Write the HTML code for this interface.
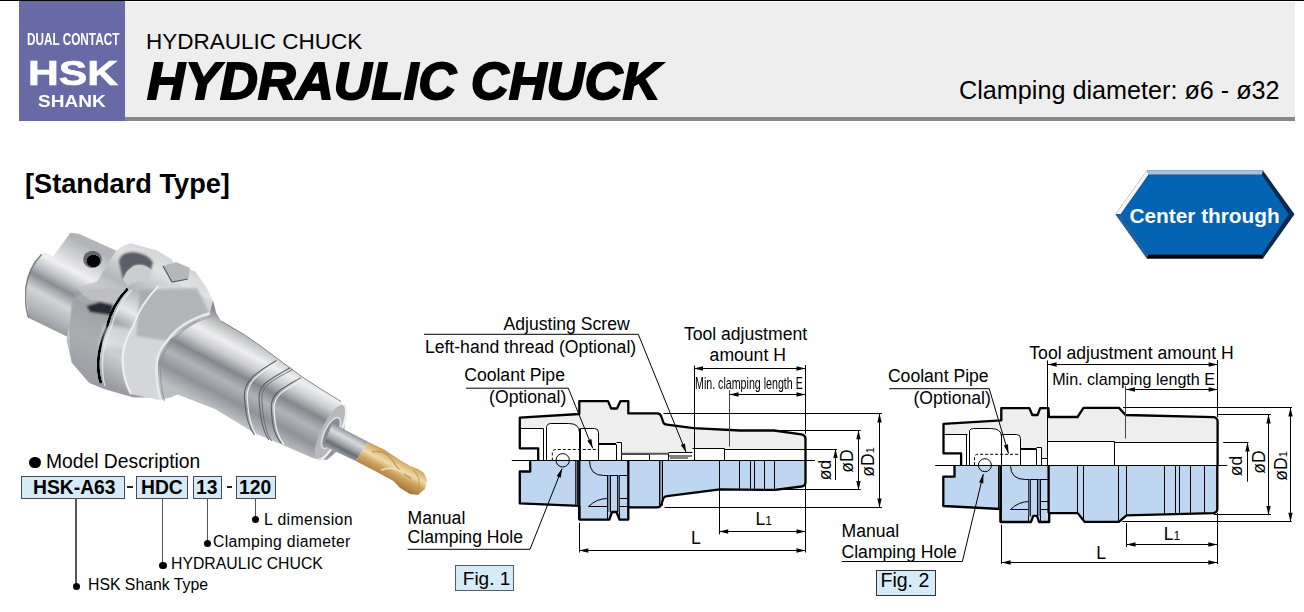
<!DOCTYPE html>
<html><head><meta charset="utf-8">
<style>
html,body{margin:0;padding:0;background:#fff;}
body{width:1304px;height:612px;position:relative;overflow:hidden;font-family:"Liberation Sans",sans-serif;color:#000;}
.a{position:absolute;white-space:nowrap;line-height:1;}
svg{position:absolute;left:0;top:0;}
.box{position:absolute;background:#D5EBF8;border:1.3px solid #4a4a4a;}
.bt{font-size:19.3px;font-weight:bold;}
.ln{width:1.3px;background:#555;}
.dot{position:absolute;width:7.4px;height:7.4px;border-radius:50%;background:#000;}
.lt{font-size:15.8px;}
</style></head><body>
<!-- header -->
<div class="a" style="left:0;top:0;width:1304px;height:1px;background:#000"></div>
<div class="a" style="left:19px;top:1px;width:106px;height:120px;background:#676AA4"></div>
<div class="a" style="left:125px;top:2px;width:1170px;height:115px;background:#EEEEEE"></div>
<div class="a" style="left:125px;top:117px;width:1170px;height:4px;background:#888888"></div>
<div class="a" id="t_dual" style="left:27px;top:32px;font-size:16px;font-weight:bold;color:#fff;transform-origin:0 0;transform:scaleX(0.735)">DUAL CONTACT</div>
<div class="a" id="t_hsk" style="left:27.5px;top:55.8px;font-size:35.5px;font-weight:bold;color:#fff;-webkit-text-stroke:0.7px #fff;transform-origin:0 0;transform:scaleX(1.2)">HSK</div>
<div class="a" id="t_shank" style="left:38px;top:93px;font-size:17px;font-weight:bold;color:#fff;transform-origin:0 0;transform:scaleX(1.12)">SHANK</div>
<div class="a" id="t_hc1" style="left:146px;top:31px;font-size:22.5px">HYDRAULIC CHUCK</div>
<div class="a" id="t_hc2" style="left:147px;top:55px;font-size:52.5px;font-weight:bold;font-style:italic;-webkit-text-stroke:1.8px #000">HYDRAULIC CHUCK</div>
<div class="a" id="t_clamp" style="left:959px;top:78.2px;font-size:25.2px">Clamping diameter: ø6 - ø32</div>

<div class="a" id="t_std" style="left:25px;top:170px;font-size:27.2px;font-weight:bold">[Standard Type]</div>

<!-- model description -->
<div class="a" style="left:29.3px;top:456.5px;width:11.5px;height:11.5px;border-radius:50%;background:#000"></div>
<div class="a" id="t_md" style="left:46px;top:451.5px;font-size:19.3px">Model Description</div>
<div class="box" style="left:21px;top:476px;width:102px;height:21px"></div>
<div class="box" style="left:136px;top:476px;width:50px;height:21px"></div>
<div class="box" style="left:193px;top:476px;width:27px;height:21px"></div>
<div class="box" style="left:236px;top:476px;width:38px;height:21px"></div>
<div class="a bt" id="b1" style="left:33px;top:478px">HSK-A63</div>
<div class="a bt" id="b2" style="left:141px;top:478px">HDC</div>
<div class="a bt" id="b3" style="left:196px;top:478px">13</div>
<div class="a bt" id="b4" style="left:239px;top:478px">120</div>
<div class="a" style="left:127px;top:486px;width:6px;height:2px;background:#222"></div>
<div class="a" style="left:227px;top:486px;width:5px;height:2px;background:#222"></div>
<div class="a ln" style="left:75.3px;top:498px;height:88px"></div>
<div class="a ln" style="left:162px;top:498px;height:67px"></div>
<div class="a ln" style="left:206.5px;top:498px;height:45px"></div>
<div class="a ln" style="left:255px;top:498px;height:21px"></div>
<div class="dot" style="left:72.6px;top:582.6px"></div>
<div class="dot" style="left:159.3px;top:562px"></div>
<div class="dot" style="left:203.8px;top:540px"></div>
<div class="dot" style="left:252px;top:516px"></div>
<div class="a lt" id="l1" style="left:88px;top:576.5px">HSK Shank Type</div>
<div class="a lt" id="l2" style="left:171px;top:555.5px">HYDRAULIC CHUCK</div>
<div class="a lt" id="l3" style="left:213px;top:533.5px;letter-spacing:0.3px">Clamping diameter</div>
<div class="a lt" id="l4" style="left:264px;top:511.5px;letter-spacing:0.4px">L dimension</div>



<!--PHOTO-->
<svg width="1304" height="612" style="position:absolute;left:0;top:0">
<defs>
<filter id="blur1" x="-10%" y="-10%" width="120%" height="120%"><feGaussianBlur stdDeviation="0.8"/></filter>
<filter id="blur2" x="-20%" y="-20%" width="140%" height="140%"><feGaussianBlur stdDeviation="2"/></filter>
<linearGradient id="gShank" gradientUnits="userSpaceOnUse" x1="84.5" y1="244.6" x2="39.5" y2="329.4"><stop offset="0" stop-color="#c3c4c7"/><stop offset="0.18" stop-color="#e0e1e3"/><stop offset="0.3" stop-color="#f7f7f8"/><stop offset="0.42" stop-color="#cfd0d3"/><stop offset="0.52" stop-color="#a3a6aa"/><stop offset="0.66" stop-color="#dddee0"/><stop offset="0.84" stop-color="#c0c2c5"/><stop offset="1" stop-color="#a2a5a9"/></linearGradient>
<linearGradient id="gFl" gradientUnits="userSpaceOnUse" x1="184.6" y1="249.1" x2="111.4" y2="386.9"><stop offset="0" stop-color="#d4d5d7"/><stop offset="0.2" stop-color="#e9eaeb"/><stop offset="0.38" stop-color="#c3c5c8"/><stop offset="0.52" stop-color="#eeeff0"/><stop offset="0.62" stop-color="#b7b9bc"/><stop offset="0.8" stop-color="#d9dadc"/><stop offset="1" stop-color="#aeb0b3"/></linearGradient>
<linearGradient id="gBody" gradientUnits="userSpaceOnUse" x1="282.6" y1="346.1" x2="241.4" y2="423.9"><stop offset="0" stop-color="#a3a5a8"/><stop offset="0.1" stop-color="#c8cacc"/><stop offset="0.26" stop-color="#f5f5f6"/><stop offset="0.38" stop-color="#d8d9db"/><stop offset="0.52" stop-color="#9fa2a6"/><stop offset="0.66" stop-color="#c2c4c7"/><stop offset="0.82" stop-color="#a7aaae"/><stop offset="1" stop-color="#cacccf"/></linearGradient>
<linearGradient id="gTool" gradientUnits="userSpaceOnUse" x1="349.1" y1="430.5" x2="336.9" y2="453.5"><stop offset="0" stop-color="#9ea1a5"/><stop offset="0.3" stop-color="#e3e4e6"/><stop offset="0.55" stop-color="#b9bcc0"/><stop offset="0.75" stop-color="#8e9196"/><stop offset="1" stop-color="#b5b8bc"/></linearGradient>
<linearGradient id="gGold" gradientUnits="userSpaceOnUse" x1="399.5" y1="453.9" x2="384.5" y2="482.1"><stop offset="0" stop-color="#a57b3b"/><stop offset="0.2" stop-color="#d6b06c"/><stop offset="0.42" stop-color="#f0dba8"/><stop offset="0.62" stop-color="#cda35e"/><stop offset="1" stop-color="#9a7030"/></linearGradient>
<filter id="tone" x="0" y="0" width="100%" height="100%"><feComponentTransfer><feFuncR type="linear" slope="1.12" intercept="-0.16"/><feFuncG type="linear" slope="1.12" intercept="-0.16"/><feFuncB type="linear" slope="1.12" intercept="-0.16"/></feComponentTransfer></filter>
</defs>
<g filter="url(#tone)">
<polygon points="25.5,290 27.8,276 33.7,262.3 41.6,254.4 44.5,252.5 51.4,255.4 52.4,257.4 69,234.8 70,232.8 78.8,233.8 116,250.5 120,300 70,338 28.8,318" fill="url(#gShank)" />
<path d="M41.6,254.4 Q28,268 25.5,290 Q25,308 28.8,318" fill="none" stroke="#9d9fa3" stroke-width="1.5" />
<ellipse cx="92.5" cy="259.3" rx="9.3" ry="8.6" fill="#8a8c90"/>
<ellipse cx="93.5" cy="261" rx="6.5" ry="5.8" fill="#2e2f31"/>
<polygon points="116,250.5 123,246 130.6,243.2 157,250.6 171.8,259.4 174.7,265.3 195.3,271.2 207,288.8 213,300.6 216,312.4 219,320 171.8,397.6 148,397.6 133.5,397.6 104,389 89.4,383 71.8,362.4 66.6,340 68.8,327 72,300 95,285" fill="url(#gFl)" />
<polygon points="76.2,288.8 127.6,288.8 107,327 98.2,362 101,383 89.4,383 71.8,362.4 68.8,327" fill="#b3b5b8" opacity="0.75"/>
<polygon points="76.2,288.8 100,280 127.6,288.8 118,303 90,300" fill="#cfd0d2" opacity="0.8"/>
<polygon points="86.5,306 100,302 113,305 111,315.3 90,312" fill="#6f7175" filter="url(#blur1)"/>
<path d="M127.6,288.8 Q112,305 107,327 Q99,345 98.2,362 Q98,375 101,383" fill="none" stroke="#1e1f21" stroke-width="2.2" />
<path d="M131.5,290 Q116,307 111,328 Q103,346 102.5,362 Q102,376 105,386" fill="none" stroke="#eeeff0" stroke-width="1.4" opacity="0.85"/>
<polygon points="104,325 150,330 148,352 100,346" fill="#f2f3f4" opacity="0.6" filter="url(#blur2)"/>
<path d="M118.8,262 Q120,252 133,252 Q147,253 153,262 L151.2,270 Q143,263 134,266 Q126,270 123,280 Z" fill="#85878b" stroke="none" stroke-width="1" filter="url(#blur1)"/>
<path d="M134,266 Q143,263 151.2,270 L148,283 Q138,279 128,286 Q125,282 123,280 Q126,270 134,266 Z" fill="#d7d8da" stroke="none" stroke-width="1" />
<path d="M158.7,285.6 L175.7,283.5 L214,302.6 L209.7,313.2 Q180,322 167.2,340.9 Q157,352 156.6,364.2 Q156,385 160.9,400.3 L131,394 Q123,380 122.6,360 Q122,345 133.2,326 Q140,305 158.7,285.6 Z" fill="#dfe0e2" stroke="none" stroke-width="1" />
<polygon points="140,290 197,287.7 209.7,313.2 167.2,340.9 136,336" fill="#b5b7ba" opacity="0.65" filter="url(#blur1)"/>
<path d="M133.2,326 Q122,345 122.6,360 Q123,380 131,394" fill="none" stroke="#f4f5f5" stroke-width="2.2" />
<path d="M158.7,285.6 Q140,305 133.2,326" fill="none" stroke="#f4f5f5" stroke-width="2" />
<polygon points="163,266 176,262 190,268 188,279 172,282" fill="#c4c6c9" />
<path d="M163,266 L172,282 L188,279" fill="none" stroke="#7f8286" stroke-width="1.2" />
<polygon points="209.7,313.2 213,300.6 216,312.4 221,321 245.4,335.4 262,347 280,360.5 302.4,377 320,388.5 341,401.5 346,413 344,432 336,452 327,460 313.4,458.2 267.6,438.6 254.6,432.9 215.4,409.2 177.8,394.5 160.9,400.3 156.6,364.2 167.2,340.9" fill="url(#gBody)" />
<path d="M209.7,313.2 Q180,322 167.2,340.9 Q157,352 156.6,364.2 Q156,385 160.9,400.3" fill="none" stroke="#eff0f1" stroke-width="2.6" />
<path d="M212,316 Q184,325 171,343 Q161,354 160.5,366 Q160,386 164.5,400.8" fill="none" stroke="#a7aaae" stroke-width="1.2" opacity="0.8"/>
<path d="M221,321 L245.4,335.4 L262,347 L280,360.5 L302.4,377 L320,388.5 L341,401.5" fill="none" stroke="#8c8f93" stroke-width="1.0" opacity="0.8"/>
<path d="M276.5,360.4 C256.5,372.4 241.7,380.8 244.7,400.8 C245.7,415.8 248.5,427 254.5,435" fill="none" stroke="#85888c" stroke-width="1.1" />
<path d="M279,361.6 C259,373.6 244.5,381.5 247.5,401.5 C248.5,416.5 251,428 257,436" fill="none" stroke="#f4f5f5" stroke-width="1.2" />
<path d="M290,367.8 C270,379.8 256.4,383.3 259.4,403.3 C260.4,418.3 263,432 269,440" fill="none" stroke="#85888c" stroke-width="1.1" />
<path d="M292.8,369.2 C272.8,381.2 259.2,384 262.2,404 C263.2,419 265.8,433.2 271.8,441.2" fill="none" stroke="#8f9296" stroke-width="1.0" />
<path d="M301,377.6 C281,389.6 268.6,393 271.6,413 C272.6,428 275,435.2 281,443.2" fill="none" stroke="#85888c" stroke-width="1.1" />
<path d="M303.8,379 C283.8,391 271.4,394 274.4,414 C275.4,429 278,436.5 284,444.5" fill="none" stroke="#f4f5f5" stroke-width="1.3" />
<ellipse cx="330.5" cy="432.2" rx="9.5" ry="30.2" transform="rotate(26 330.5 432.2)" fill="#c6c8cb"/>
<path d="M343,404.6 A9.5,30.2 26 0 1 316.5,459.6" fill="none" stroke="#f5f6f6" stroke-width="2.2" transform="translate(0.5,0)"/>
<ellipse cx="331" cy="433" rx="6.5" ry="17" transform="rotate(26 331 433)" fill="#a3a6aa" stroke="#e9eaeb" stroke-width="1.5"/>
<polygon points="332.4,423.2 368.3,442.1 355.7,461 323.4,445.7" fill="url(#gTool)" />
</g>
<polygon points="368.3,442.1 385,450 400,460 410,466 418,469 424,473 427,480 425,489 418,495 410,494 400,488 393.5,481 375,471 355.7,461" fill="url(#gGold)" />
<path d="M372,452 Q385,449 393,461 Q399,473 411,478" fill="none" stroke="#b08848" stroke-width="1.4" opacity="0.7"/>
<path d="M381,470 Q394,465 404,474" fill="none" stroke="#f7ebcc" stroke-width="1.5" opacity="0.8"/>
<path d="M413,470 Q421,476 419,490" fill="none" stroke="#b8914f" stroke-width="1.2" opacity="0.6"/>
</svg>
<!--/PHOTO-->
<!--FIGS-->
<svg width="1304" height="612" style="position:absolute;left:0;top:0" font-family="Liberation Sans, sans-serif">
<path d="M538.2,460.5 L538.2,448.3 L519.8,448.3 L519.8,417.7 L579.3,414 L579.3,401.1 L608,401.1 L611.2,408.5 L617,408.5 L620.5,401.1 L628.3,401.1 L628.3,413.4 L657,413.4 Q660.5,413.4 661.5,417 L663.5,423 Q664.5,424.4 667,424.6 L693.5,428.1 L740,430.5 L774,430.5 L801.5,434.3 Q805.5,435 805.5,439 L805.5,460.5 Z" fill="#EEEEEE"/>
<path d="M519.8,460.5 530.2,460.5 L530.2,471.5 L519.8,471.5 L519.8,503.4 L579.3,505.9 L579.3,519.6 L609.3,519.6 L612,512 L616.5,512 L619.5,519.6 L628.3,519.6 L628.3,507.4 L657,507.4 Q660.5,507.4 661.5,504 L663.5,498 Q664.5,496.4 667,496.2 L720,489.4 L775,489.9 L801.5,486.5 Q805.5,486 805.5,482 L805.5,460.5 Z" fill="#BED6F0"/>
<path d="M519.8,428.1 L543.7,428.1 L546.8,423.8 L568.8,423.8 Q579.3,423.8 579.3,432 L579.3,428.1 L594,428.1 Q598.3,428.1 598.3,432 L598.3,444 L616,444 L616,442.2 L621.5,442.2 L621.5,454.1 L649,454.1 L649,453.4 L668,453.4 L668,452 L692,452 L692,448.3 L724.2,448.3 L724.2,449 L805.5,449 L805.5,460.5 L519.8,460.5 Z" fill="#fff"/>
<path d="M519.5,428.5 L543.5,428.5" fill="none" stroke="#000" stroke-width="1.0"/>
<path d="M543.5,428.5 L543.5,460.5" fill="none" stroke="#000" stroke-width="1.0"/>
<path d="M546.5,460.5 L546.5,426.5 Q547.5,423.5 550.5,423.5 L568.5,423.5 Q579.5,423.5 579.5,432.5" fill="none" stroke="#000" stroke-width="1.0"/>
<path d="M579.5,428.5 L579.5,460.5" fill="none" stroke="#000" stroke-width="1.0"/>
<path d="M580.5,428.5 L580.5,460.5" fill="none" stroke="#000" stroke-width="1.0"/>
<path d="M580.5,428.5 L594.5,428.5 Q598.5,428.5 598.5,432.5 L598.5,460.5" fill="none" stroke="#000" stroke-width="1.0"/>
<path d="M598.5,444.5 L616.5,444.5 L616.5,460.5" fill="none" stroke="#000" stroke-width="1.0"/>
<path d="M616.5,442.5 L621.5,442.5 L621.5,460.5" fill="none" stroke="#000" stroke-width="1.0"/>
<path d="M621.5,454.5 L649.5,454.5" fill="none" stroke="#000" stroke-width="1.0"/>
<path d="M649.5,460.5 L649.5,453.5 L668.5,453.5 L668.5,460.5" fill="none" stroke="#000" stroke-width="1.0"/>
<path d="M668.5,452.5 L692.5,452.5" fill="none" stroke="#000" stroke-width="1.0"/>
<path d="M692.5,448.5 L724.5,448.5 L724.5,460.5" fill="none" stroke="#000" stroke-width="1.0"/>
<path d="M724.5,449.5 L805.5,449.5" fill="none" stroke="#000" stroke-width="1.0"/>
<path d="M694.5,365.5 L694.5,460.5" fill="none" stroke="#000" stroke-width="1.0"/>
<path d="M621.5,453.8 L668,453.8" stroke="#555" stroke-width="2"/>
<path d="M668,456 L692,456 M670,458 L688,458" stroke="#000" stroke-width="1"/>
<path d="M552.3,460.5 L552.3,453 Q552.3,449.5 556,449.5 L598.3,449.5" fill="none" stroke="#000" stroke-width="1" stroke-dasharray="3,2"/>
<circle cx="562.7" cy="460.3" r="6.7" fill="none" stroke="#000" stroke-width="1.0"/>
<path d="M575.5,460.5 L575.5,505.5" fill="none" stroke="#000" stroke-width="1.0"/>
<path d="M577.5,460.5 L577.5,505.5" fill="none" stroke="#000" stroke-width="1.0"/>
<path d="M579.5,460.5 L579.5,506.5" fill="none" stroke="#000" stroke-width="1.0"/>
<path d="M589.5,460.5 Q589.5,475.5 603.5,475.5 L628.5,475.5" fill="none" stroke="#000" stroke-width="1.0"/>
<path d="M607.5,475.5 L607.5,519.5" fill="none" stroke="#000" stroke-width="1.0"/>
<path d="M610.5,475.5 L610.5,512.5" fill="none" stroke="#000" stroke-width="1.0"/>
<path d="M617.5,475.5 L617.5,512.5" fill="none" stroke="#000" stroke-width="1.0"/>
<path d="M619.5,475.5 L619.5,519.5" fill="none" stroke="#000" stroke-width="1.0"/>
<path d="M588.5,506.5 Q596.5,498.5 607.5,498.5" fill="none" stroke="#000" stroke-width="1.0"/>
<path d="M588.5,506.5 L607.5,506.5" fill="none" stroke="#000" stroke-width="1.0"/>
<path d="M619.5,498.5 L628.5,498.5" fill="none" stroke="#000" stroke-width="1.0"/>
<path d="M619.5,506.5 L628.5,506.5" fill="none" stroke="#000" stroke-width="1.0"/>
<path d="M659.5,460.5 L659.5,507.5" fill="none" stroke="#000" stroke-width="1.0"/>
<path d="M662.5,460.5 L662.5,505.5" fill="none" stroke="#000" stroke-width="1.0"/>
<path d="M719.5,460.5 L719.5,489.5" fill="none" stroke="#000" stroke-width="1.0"/>
<path d="M739.5,460.5 L739.5,490.5" fill="none" stroke="#000" stroke-width="1.0"/>
<path d="M750.5,460.5 L750.5,490.5" fill="none" stroke="#000" stroke-width="1.0"/>
<path d="M754.5,460.5 L754.5,490.5" fill="none" stroke="#000" stroke-width="1.0"/>
<path d="M764.5,460.5 L764.5,490.5" fill="none" stroke="#000" stroke-width="1.0"/>
<path d="M774.5,460.5 L774.5,490.5" fill="none" stroke="#000" stroke-width="1.0"/>
<path d="M576.4,460.5 L576.4,505.8 M660.7,460.5 L660.7,506 M609,475.2 L609,512 M618.6,475.2 L618.6,512" stroke="#6a7c92" stroke-width="1.6"/>
<path d="M598.3,444 L616,444" stroke="#000" stroke-width="2"/>
<line x1="511.8" y1="460.5" x2="815" y2="460.5" stroke="#000" stroke-width="1.0" />
<path d="M538.2,460.5 L538.2,448.3 L519.8,448.3 L519.8,417.7 L579.3,414 L579.3,401.1 L608,401.1 L611.2,408.5 L617,408.5 L620.5,401.1 L628.3,401.1 L628.3,413.4 L657,413.4 Q660.5,413.4 661.5,417 L663.5,423 Q664.5,424.4 667,424.6 L693.5,428.1 L740,430.5 L774,430.5 L801.5,434.3 Q805.5,435 805.5,439 L805.5,460.5" fill="none" stroke="#000" stroke-width="2.3" stroke-linejoin="round"/>
<path d="M530.2,460.5 L530.2,471.5 L519.8,471.5 L519.8,503.4 L579.3,505.9 L579.3,519.6 L609.3,519.6 L612,512 L616.5,512 L619.5,519.6 L628.3,519.6 L628.3,507.4 L657,507.4 Q660.5,507.4 661.5,504 L663.5,498 Q664.5,496.4 667,496.2 L720,489.4 L775,489.9 L801.5,486.5 Q805.5,486 805.5,482 L805.5,460.5" fill="none" stroke="#000" stroke-width="2.3" stroke-linejoin="round"/>
<path d="M579.3,519.6 L579.3,460.5 M628.3,507.4 L628.3,460.5" fill="none" stroke="#000" stroke-width="2.3"/>
<line x1="805.5" y1="365" x2="805.5" y2="434" stroke="#000" stroke-width="1.0" />
<line x1="694" y1="368.5" x2="805.5" y2="368.5" stroke="#000" stroke-width="1" />
<polygon points="694.0,368.5 703.0,366.3 703.0,370.7" fill="#000"/>
<polygon points="805.5,368.5 796.5,370.7 796.5,366.3" fill="#000"/>
<line x1="729.5" y1="390" x2="729.5" y2="446.5" stroke="#444" stroke-width="1.0" />
<line x1="729.5" y1="394.5" x2="805.5" y2="394.5" stroke="#000" stroke-width="1" />
<polygon points="729.5,394.5 738.5,392.3 738.5,396.7" fill="#000"/>
<polygon points="805.5,394.5 796.5,396.7 796.5,392.3" fill="#000"/>
<line x1="663.5" y1="413.5" x2="882" y2="413.5" stroke="#000" stroke-width="1.0" />
<line x1="664.6" y1="507.5" x2="882" y2="507.5" stroke="#000" stroke-width="1.0" />
<line x1="879.5" y1="413.4" x2="879.5" y2="507.4" stroke="#000" stroke-width="1" />
<polygon points="879.5,413.4 881.7,422.4 877.3,422.4" fill="#000"/>
<polygon points="879.5,507.4 877.3,498.4 881.7,498.4" fill="#000"/>
<line x1="775" y1="430.5" x2="860.7" y2="430.5" stroke="#000" stroke-width="1.0" />
<line x1="775" y1="489.5" x2="860.7" y2="489.5" stroke="#000" stroke-width="1.0" />
<line x1="858.5" y1="430.2" x2="858.5" y2="489.9" stroke="#000" stroke-width="1" />
<polygon points="858.5,430.2 860.7,439.2 856.3,439.2" fill="#000"/>
<polygon points="858.5,489.9 856.3,480.9 860.7,480.9" fill="#000"/>
<line x1="805.5" y1="449.5" x2="837" y2="449.5" stroke="#000" stroke-width="1.0" />
<line x1="835.5" y1="449" x2="835.5" y2="480" stroke="#000" stroke-width="1" />
<polygon points="835.5,449.0 837.7,458.0 833.3,458.0" fill="#000"/>
<line x1="719.5" y1="490" x2="719.5" y2="534.3" stroke="#000" stroke-width="1.0" />
<line x1="805.5" y1="485" x2="805.5" y2="552.5" stroke="#000" stroke-width="1.0" />
<line x1="719.2" y1="531.5" x2="805.5" y2="531.5" stroke="#000" stroke-width="1" />
<polygon points="719.2,531.5 728.2,529.3 728.2,533.7" fill="#000"/>
<polygon points="805.5,531.5 796.5,533.7 796.5,529.3" fill="#000"/>
<line x1="579.5" y1="522.8" x2="579.5" y2="552.5" stroke="#000" stroke-width="1.0" />
<line x1="579.3" y1="550.5" x2="805.5" y2="550.5" stroke="#000" stroke-width="1" />
<polygon points="579.3,550.5 588.3,548.3 588.3,552.7" fill="#000"/>
<polygon points="805.5,550.5 796.5,552.7 796.5,548.3" fill="#000"/>
<path d="M424,334.3 L638.3,334.3 L686.2,452.6" fill="none" stroke="#000" stroke-width="1.0"/>
<polygon points="686.2,452.6 680.8,445.1 684.9,443.4" fill="#000"/>
<path d="M466.1,388.2 L568.3,388.2 L592.7,448.3" fill="none" stroke="#000" stroke-width="1.0"/>
<polygon points="592.7,448.3 587.3,440.8 591.4,439.1" fill="#000"/>
<path d="M407.7,549.3 L530,549.3 L562.1,468.5" fill="none" stroke="#000" stroke-width="1.0"/>
<polygon points="562.1,468.5 560.8,477.7 556.7,476.1" fill="#000"/>
<path d="M961.1,465.2 L961.1,453.4 L943.5,453.4 L943.5,423.9 L1001.3,420.3 L1001.3,408.1 L1029.4,408.1 L1032.3,415 L1037.5,415 L1040.2,408.1 L1048.4,408.1 L1049,417 L1077.5,417 L1083.5,407.9 L1119,407.9 L1125.5,415 L1213.5,417.2 Q1217.6,417.8 1217.6,421.5 L1217.6,465.2 Z" fill="#EEEEEE"/>
<path d="M943.3,465.2 954.5,465.2 L954.5,476.7 L943.3,476.7 L943.3,506 L1000.6,509 L1000.6,522 L1031,522 L1033.3,515.9 L1037,515.9 L1039,522 L1049.2,522 L1049.2,513.1 L1077.7,513.1 L1084.6,521.8 L1118.9,521.8 L1126.5,515.4 L1213.5,513.1 Q1217.3,512.5 1217.3,509 L1217.3,465.2 Z" fill="#BED6F0"/>
<path d="M943.5,434.3 L967.3,434.3 L969.9,428.1 L990.2,428.1 Q1001.3,428.1 1001.3,436 L1001.3,434.3 L1016,434.3 Q1020,434.3 1020,438 L1020,449 L1036.6,449 L1036.6,447.7 L1041.2,447.7 L1041.2,458.2 L1047,458.2 L1047,441.6 L1114.9,441.6 L1114.9,442.6 L1217.6,442.6 L1217.6,465.2 L943.5,465.2 Z" fill="#fff"/>
<path d="M943.5,434.5 L967.5,434.5" fill="none" stroke="#000" stroke-width="1.0"/>
<path d="M966.5,434.5 L966.5,465.5" fill="none" stroke="#000" stroke-width="1.0"/>
<path d="M969.5,465.5 L969.5,430.5 Q970.5,428.5 973.5,428.5 L990.5,428.5 Q1001.5,428.5 1001.5,436.5" fill="none" stroke="#000" stroke-width="1.0"/>
<path d="M1001.5,434.5 L1001.5,465.5" fill="none" stroke="#000" stroke-width="1.0"/>
<path d="M1002.5,434.5 L1016.5,434.5 Q1020.5,434.5 1020.5,438.5 L1020.5,465.5" fill="none" stroke="#000" stroke-width="1.0"/>
<path d="M1020.5,449.5 L1036.5,449.5 L1036.5,465.5" fill="none" stroke="#000" stroke-width="1.0"/>
<path d="M1036.5,447.5 L1041.5,447.5 L1041.5,465.5" fill="none" stroke="#000" stroke-width="1.0"/>
<path d="M1041.5,458.5 L1047.5,458.5" fill="none" stroke="#000" stroke-width="1.0"/>
<path d="M1047.5,441.5 L1114.5,441.5 L1114.5,465.5" fill="none" stroke="#000" stroke-width="1.0"/>
<path d="M1114.5,442.5 L1217.5,442.5" fill="none" stroke="#000" stroke-width="1.0"/>
<path d="M1047.5,360.5 L1047.5,465.5" fill="none" stroke="#000" stroke-width="1.0"/>
<path d="M974.5,465.2 L974.5,458 Q974.5,454.3 978,454.3 L1020,454.3" fill="none" stroke="#000" stroke-width="1" stroke-dasharray="3,2"/>
<circle cx="984.9" cy="465.2" r="6.5" fill="none" stroke="#000" stroke-width="1.0"/>
<path d="M998.5,465.5 L998.5,509.5" fill="none" stroke="#000" stroke-width="1.0"/>
<path d="M1001.5,465.5 L1001.5,509.5" fill="none" stroke="#000" stroke-width="1.0"/>
<path d="M1010.5,465.5 Q1010.5,479.5 1025.5,479.5 L1048.5,479.5" fill="none" stroke="#000" stroke-width="1.0"/>
<path d="M1028.5,479.5 L1028.5,522.5" fill="none" stroke="#000" stroke-width="1.0"/>
<path d="M1030.5,479.5 L1030.5,516.5" fill="none" stroke="#000" stroke-width="1.0"/>
<path d="M1037.5,479.5 L1037.5,516.5" fill="none" stroke="#000" stroke-width="1.0"/>
<path d="M1040.5,479.5 L1040.5,522.5" fill="none" stroke="#000" stroke-width="1.0"/>
<path d="M1010.5,509.5 Q1018.5,501.5 1029.5,501.5" fill="none" stroke="#000" stroke-width="1.0"/>
<path d="M1010.5,509.5 L1028.5,509.5" fill="none" stroke="#000" stroke-width="1.0"/>
<path d="M1040.5,501.5 L1048.5,501.5" fill="none" stroke="#000" stroke-width="1.0"/>
<path d="M1040.5,509.5 L1048.5,509.5" fill="none" stroke="#000" stroke-width="1.0"/>
<path d="M1077.5,465.5 L1077.5,513.5" fill="none" stroke="#000" stroke-width="1.0"/>
<path d="M1083.5,465.5 L1083.5,521.5" fill="none" stroke="#000" stroke-width="1.0"/>
<path d="M1118.5,465.5 L1118.5,521.5" fill="none" stroke="#000" stroke-width="1.0"/>
<path d="M1126.5,465.5 L1126.5,515.5" fill="none" stroke="#000" stroke-width="1.0"/>
<path d="M1164.5,465.5 L1164.5,514.5" fill="none" stroke="#000" stroke-width="1.0"/>
<path d="M1175.5,465.5 L1175.5,514.5" fill="none" stroke="#000" stroke-width="1.0"/>
<path d="M1179.5,465.5 L1179.5,514.5" fill="none" stroke="#000" stroke-width="1.0"/>
<path d="M1190.5,465.5 L1190.5,514.5" fill="none" stroke="#000" stroke-width="1.0"/>
<path d="M1204.5,465.5 L1204.5,513.5" fill="none" stroke="#000" stroke-width="1.0"/>
<path d="M999.8,465.2 L999.8,509 M1029.4,479.4 L1029.4,516 M1039.2,479.4 L1039.2,516" stroke="#6a7c92" stroke-width="1.8"/>
<path d="M1020,449 L1036.6,449" stroke="#000" stroke-width="2"/>
<line x1="935.2" y1="465.5" x2="1227.3" y2="465.5" stroke="#000" stroke-width="1.0" />
<path d="M961.1,465.2 L961.1,453.4 L943.5,453.4 L943.5,423.9 L1001.3,420.3 L1001.3,408.1 L1029.4,408.1 L1032.3,415 L1037.5,415 L1040.2,408.1 L1048.4,408.1 L1049,417 L1077.5,417 L1083.5,407.9 L1119,407.9 L1125.5,415 L1213.5,417.2 Q1217.6,417.8 1217.6,421.5 L1217.6,465.2" fill="none" stroke="#000" stroke-width="2.3" stroke-linejoin="round"/>
<path d="M954.5,465.2 L954.5,476.7 L943.3,476.7 L943.3,506 L1000.6,509 L1000.6,522 L1031,522 L1033.3,515.9 L1037,515.9 L1039,522 L1049.2,522 L1049.2,513.1 L1077.7,513.1 L1084.6,521.8 L1118.9,521.8 L1126.5,515.4 L1213.5,513.1 Q1217.3,512.5 1217.3,509 L1217.3,465.2" fill="none" stroke="#000" stroke-width="2.3" stroke-linejoin="round"/>
<path d="M1000.6,522 L1000.6,465.2 M1048.6,513.1 L1048.6,465.2" fill="none" stroke="#000" stroke-width="2.3"/>
<line x1="1047.7" y1="364.5" x2="1217.6" y2="364.5" stroke="#000" stroke-width="1" />
<polygon points="1047.7,364.5 1056.7,362.3 1056.7,366.7" fill="#000"/>
<polygon points="1217.6,364.5 1208.6,366.7 1208.6,362.3" fill="#000"/>
<line x1="1217.5" y1="360" x2="1217.5" y2="417" stroke="#000" stroke-width="1.0" />
<line x1="1126" y1="389.5" x2="1217.6" y2="389.5" stroke="#000" stroke-width="1" />
<polygon points="1126.0,389.5 1135.0,387.3 1135.0,391.7" fill="#000"/>
<polygon points="1217.6,389.5 1208.6,391.7 1208.6,387.3" fill="#000"/>
<line x1="1125.5" y1="386" x2="1125.5" y2="438.5" stroke="#444" stroke-width="1.0" />
<line x1="1123" y1="407.5" x2="1292" y2="407.5" stroke="#000" stroke-width="1.0" />
<line x1="1122.4" y1="521.5" x2="1291.7" y2="521.5" stroke="#000" stroke-width="1.0" />
<line x1="1290.5" y1="407.5" x2="1290.5" y2="521.8" stroke="#000" stroke-width="1" />
<polygon points="1290.5,407.5 1292.7,416.5 1288.3,416.5" fill="#000"/>
<polygon points="1290.5,521.8 1288.3,512.8 1292.7,512.8" fill="#000"/>
<line x1="1218" y1="414.5" x2="1270.8" y2="414.5" stroke="#000" stroke-width="1.0" />
<line x1="1213.9" y1="514.5" x2="1271" y2="514.5" stroke="#000" stroke-width="1.0" />
<line x1="1268.5" y1="414.6" x2="1268.5" y2="514.9" stroke="#000" stroke-width="1" />
<polygon points="1268.5,414.6 1270.7,423.6 1266.3,423.6" fill="#000"/>
<polygon points="1268.5,514.9 1266.3,505.9 1270.7,505.9" fill="#000"/>
<line x1="1223.2" y1="442.5" x2="1248.5" y2="442.5" stroke="#000" stroke-width="1.0" />
<line x1="1247.5" y1="442.6" x2="1247.5" y2="481.7" stroke="#000" stroke-width="1" />
<polygon points="1247.5,442.6 1249.7,451.6 1245.3,451.6" fill="#000"/>
<line x1="1126.5" y1="522.9" x2="1126.5" y2="547" stroke="#000" stroke-width="1.0" />
<line x1="1126.5" y1="544.5" x2="1217.3" y2="544.5" stroke="#000" stroke-width="1" />
<polygon points="1126.5,544.5 1135.5,542.3 1135.5,546.7" fill="#000"/>
<polygon points="1217.3,544.5 1208.3,546.7 1208.3,542.3" fill="#000"/>
<line x1="1001.5" y1="524.7" x2="1001.5" y2="564" stroke="#000" stroke-width="1.0" />
<line x1="1217.5" y1="513" x2="1217.5" y2="564.1" stroke="#000" stroke-width="1.0" />
<line x1="1001.6" y1="562.5" x2="1217.3" y2="562.5" stroke="#000" stroke-width="1" />
<polygon points="1001.6,562.5 1010.6,560.3 1010.6,564.7" fill="#000"/>
<polygon points="1217.3,562.5 1208.3,564.7 1208.3,560.3" fill="#000"/>
<path d="M889.2,388.7 L989.2,388.7 L1008.5,453.6" fill="none" stroke="#000" stroke-width="1.0"/>
<polygon points="1008.5,453.6 1003.8,445.6 1008.0,444.3" fill="#000"/>
<path d="M841.8,561.5 L962.4,561.5 L983.3,474.1" fill="none" stroke="#000" stroke-width="1.0"/>
<polygon points="983.3,474.1 983.3,483.4 979.1,482.3" fill="#000"/>
</svg>
<div class="a" id="f1_adj" style="left:503.5px;top:316.4px;font-size:17.6px;">Adjusting Screw</div>
<div class="a" id="f1_lht" style="left:424.9px;top:338.5px;font-size:17.6px;">Left-hand thread (Optional)</div>
<div class="a" id="f1_cp" style="left:464.2px;top:366.9px;font-size:17.6px;">Coolant Pipe</div>
<div class="a" id="f1_opt" style="left:489.1px;top:389.3px;font-size:17.6px;">(Optional)</div>
<div class="a" id="f1_tool" style="left:683.9px;top:326.2px;font-size:17.6px;">Tool adjustment</div>
<div class="a" id="f1_amt" style="left:709.6px;top:347.3px;font-size:17.6px;">amount H</div>
<div class="a" id="f1_min" style="left:694.7px;top:374.71px;font-size:17px;transform-origin:0 0;transform:scaleX(0.627)">Min. clamping length E</div>
<div class="a" id="f1_man" style="left:407.6px;top:509.7px;font-size:17.6px;">Manual</div>
<div class="a" id="f1_clh" style="left:407.6px;top:529.2px;font-size:17.6px;">Clamping Hole</div>
<div class="a" id="f1_L1" style="left:755.5px;top:511.3px;font-size:17.6px;">L<span style="font-size:12px">1</span></div>
<div class="a" id="f1_L" style="left:690.9px;top:529.6px;font-size:17.6px;">L</div>
<div class="box" style="left:455px;top:565px;width:57px;height:23.6px;border-color:#5a5f63;border-width:1.5px"></div>
<div class="a" id="f1_fig" style="left:462.8px;top:568.62px;font-size:19px;">Fig. 1</div>
<div class="a" id="f2_cp" style="left:887.9px;top:367.8px;font-size:17.6px;">Coolant Pipe</div>
<div class="a" id="f2_opt" style="left:913.5px;top:390.0px;font-size:17.6px;">(Optional)</div>
<div class="a" id="f2_tool" style="left:1029.3px;top:344.6px;font-size:17.6px;">Tool adjustment amount H</div>
<div class="a" id="f2_min" style="left:1052.2px;top:370.77px;font-size:16.1px;">Min. clamping length E</div>
<div class="a" id="f2_man" style="left:841.5px;top:523.1px;font-size:17.6px;">Manual</div>
<div class="a" id="f2_clh" style="left:841.5px;top:544.1px;font-size:17.6px;">Clamping Hole</div>
<div class="a" id="f2_L1" style="left:1163.7px;top:526.3px;font-size:17.6px;">L<span style="font-size:12px">1</span></div>
<div class="a" id="f2_L" style="left:1096.2px;top:544.7px;font-size:17.6px;">L</div>
<div class="box" style="left:876px;top:570px;width:58px;height:23.6px;border-color:#333;border-width:1.5px"></div>
<div class="a" id="f2_fig" style="left:880.5px;top:571.49px;font-size:19.5px;">Fig. 2</div>
<div class="a" id="f1_d" style="left:825.5px;top:469.5px;font-size:17.6px;transform:translate(-50%,-50%) rotate(-90deg)">ød</div>
<div class="a" id="f1_D" style="left:847.5px;top:460.5px;font-size:17.6px;transform:translate(-50%,-50%) rotate(-90deg)">øD</div>
<div class="a" id="f1_D1" style="left:869px;top:461.5px;font-size:17.6px;transform:translate(-50%,-50%) rotate(-90deg)">øD<span style="font-size:11px">1</span></div>
<div class="a" id="f2_d" style="left:1236.5px;top:465.5px;font-size:17.6px;transform:translate(-50%,-50%) rotate(-90deg)">ød</div>
<div class="a" id="f2_D" style="left:1259.5px;top:462px;font-size:17.6px;transform:translate(-50%,-50%) rotate(-90deg)">øD</div>
<div class="a" id="f2_D1" style="left:1282px;top:466px;font-size:17.6px;transform:translate(-50%,-50%) rotate(-90deg)">øD<span style="font-size:11px">1</span></div>
<!--/FIGS-->
<!-- badge -->
<svg width="1304" height="612" style="position:absolute;left:0;top:0">
<polygon points="1147,170.5 1263,170.5 1294.5,214.3 1263,258.5 1147,258.5 1115.5,214.3" fill="#0b2b4c"/>
<polygon points="1147,170.5 1263,170.5 1261.8,174.7 1148.5,174.7" fill="#A9C0E3"/>
<polygon points="1147,170.5 1148.5,174.7 1120.7,214.3 1115.5,214.3" fill="#F4F7FB"/>
<polygon points="1115.5,214.3 1120.7,214.3 1148.5,254.4 1147,258.5" fill="#2162A6"/>
<polygon points="1148.5,254.4 1261.8,254.4 1263,258.5 1147,258.5" fill="#050505"/>
<polygon points="1148.5,174.7 1261.8,174.7 1288.7,214.3 1261.8,254.4 1148.5,254.4 1120.7,214.3" fill="#0563B4"/>
</svg>
<div class="a" id="t_ct" style="left:1129.5px;top:206.2px;font-size:20.8px;font-weight:bold;color:#fff">Center through</div>
</body></html>
